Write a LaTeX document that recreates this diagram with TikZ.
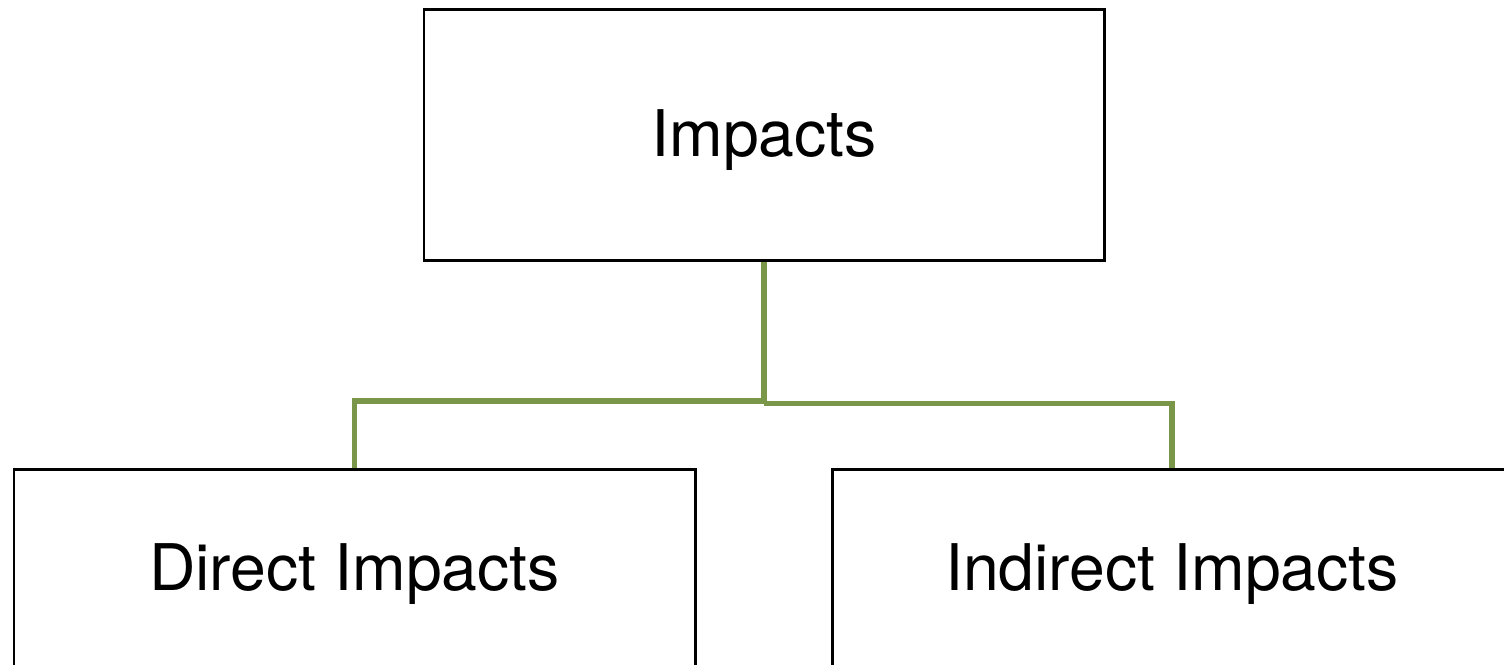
\documentclass[tikz,border=0pt]{standalone}
\usepackage{fontspec}
\setmainfont{TeX Gyre Heros}
\usepackage{tikz}
\usetikzlibrary{positioning}
\definecolor{linkgreen}{RGB}{122,150,72}
\tikzset{
  impbox/.style={ draw=black, line width=0.85pt, fill=white, minimum width=6.8cm, minimum height=2.51cm, text height=0.56cm, font=\fontsize{18.3}{22}\selectfont }
}
\tikzset{
  link/.style={ draw=linkgreen, line width=1.5pt }
}
\begin{document}
\begin{tikzpicture}
      \useasboundingbox (0, 0) rectangle (15.04, 6.65);

      \node[impbox] (impacts) at (7.64, 5.295) {Impacts};

      \node[impbox, minimum width=6.81cm, minimum height=2cm] (direct) at (3.545, 0.95) {Direct Impacts};
      \node[impbox, minimum width=6.8cm, minimum height=2cm] (indirect) at (11.72, 0.95) {Indirect Impacts};

      \coordinate (split) at (7.64, 2.64);

      \begin{scope}[link]
        \draw (impacts.south) -- (split) -| (direct.north);
        \draw ([yshift=-0.025cm]split) -| (indirect.north);
      \end{scope}
    \end{tikzpicture}
\end{document}
